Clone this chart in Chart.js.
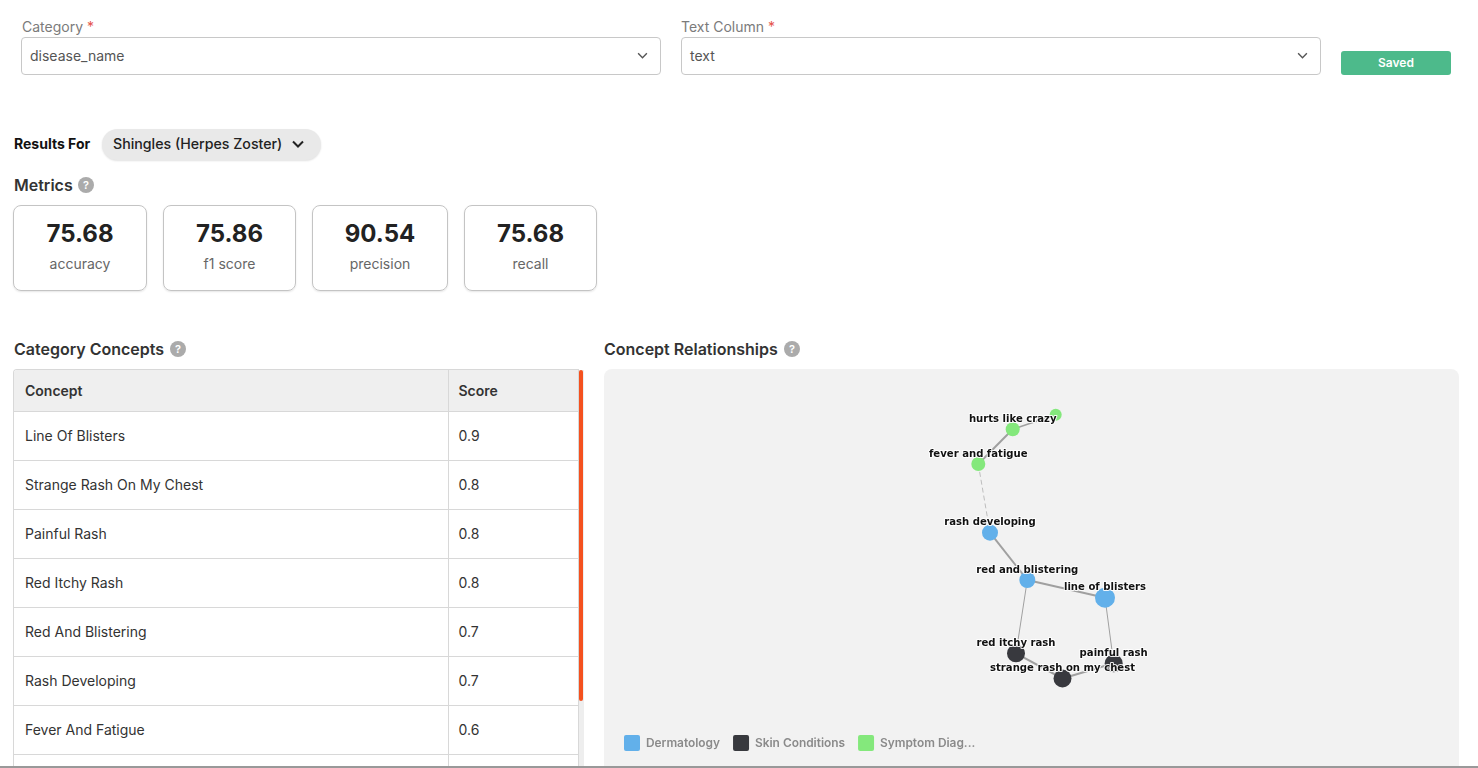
<!DOCTYPE html>
<html>
<head>
<meta charset="utf-8">
<title>Concept Relationships</title>
<script src="https://cdn.jsdelivr.net/npm/chart.js@4"></script>
<style>
  html, body { margin: 0; padding: 0; background: #fff; overflow: hidden; width: 1478px; height: 768px; }
  body { font-family: Inter, "Noto Sans", sans-serif; color: #1f1f1f; position: relative; }
  .abs { position: absolute; white-space: nowrap; }
  .field-label { font-size: 14px; color: #7b7b7b; top: 18px; line-height: 17px; }
  .field-label b { color: #e5534b; font-weight: 400; }
  .select { top: 37px; width: 638px; height: 36px; border: 1px solid #c8c8c8; border-radius: 4px; font-size: 14px; color: #555; line-height: 36px; text-indent: 8px; }
  .chev { position: absolute; right: 12px; top: 14px; width: 11px; height: 7px; }
  .saved { left: 1341px; top: 51px; width: 110px; height: 24px; border-radius: 3px; background: #4dba8b; color: #fff; font-size: 12px; font-weight: 600; text-align: center; line-height: 23px; }
  .pill { left: 102px; top: 129px; width: 219px; height: 31px; border-radius: 16px; background: #e9e9e9; box-shadow: 0 1px 2px rgba(0,0,0,.12); font-size: 14.2px; font-weight: 500; line-height: 30px; text-indent: 11px; color: #222; }
  .section { font-size: 16px; font-weight: 600; line-height: 20px; color: #333; }
  .help { width: 16px; height: 16px; border-radius: 50%; background: #ababab; color: #fff; font-size: 11px; font-weight: 600; text-align: center; line-height: 16px; }
  .card { top: 205px; height: 84px; border: 1px solid #c4c4c4; border-radius: 8px; box-shadow: 0 1px 2px rgba(0,0,0,.1); text-align: center; box-sizing: content-box; }
  .card .val { font-size: 24px; font-weight: 700; line-height: 28px; margin-top: 14px; color: #222; }
  .card .lab { font-size: 14px; line-height: 17px; margin-top: 7px; color: #666; }
  #tableWrap { left: 13px; top: 369px; width: 566px; height: 400px; border: 1px solid #d8d8d8; border-bottom: 0; border-radius: 4px 0 0 0; overflow: hidden; box-sizing: border-box; }
  table { border-collapse: collapse; width: 566px; table-layout: fixed; font-size: 14px; }
  th { height: 41px; background: #efefef; font-weight: 600; text-align: left; padding: 0 0 0 11px; color: #333; border-bottom: 1px solid #d8d8d8; }
  td { height: 49px; padding: 0 0 1px 11px; box-sizing: border-box; color: #333; border-bottom: 1px solid #d8d8d8; }
  th + th, td + td { border-left: 1px solid #d8d8d8; padding-left: 10px; }
  #track { left: 579px; top: 370px; width: 5px; height: 398px; background: #eee; }
  #thumb { left: 579px; top: 370px; width: 4px; height: 331px; background: #f4511e; border-radius: 2px; }
  #panel { left: 604px; top: 369px; width: 855px; height: 397px; background: #f2f2f2; border-radius: 8px 8px 0 0; }
  #bottomLine { left: 0; top: 766px; width: 1478px; height: 2px; background: #999; }
</style>
</head>
<body>
<div class="abs field-label" style="left:22px">Category <b>*</b></div>
<div class="abs select" style="left:21px">disease_name<svg class="chev" viewBox="0 0 12 8"><path d="M1 1.5l5 5 5-5" fill="none" stroke="#555" stroke-width="1.6"/></svg></div>
<div class="abs field-label" style="left:681px">Text Column <b>*</b></div>
<div class="abs select" style="left:681px">text<svg class="chev" viewBox="0 0 12 8"><path d="M1 1.5l5 5 5-5" fill="none" stroke="#555" stroke-width="1.6"/></svg></div>
<div class="abs saved">Saved</div>

<div class="abs" style="left:14px;top:135px;font-size:14px;font-weight:700;line-height:17px;color:#111">Results For</div>
<div class="abs pill">Shingles (Herpes Zoster)<svg style="position:absolute;left:190px;top:11px" width="12" height="8" viewBox="0 0 12 8"><path d="M1 1.5l5 5 5-5" fill="none" stroke="#222" stroke-width="2"/></svg></div>

<div class="abs section" style="left:14px;top:175px">Metrics</div>
<div class="abs help" style="left:78px;top:177px">?</div>
<div id="cards"></div>

<div class="abs section" style="left:14px;top:339px">Category Concepts</div>
<div class="abs help" style="left:170px;top:341px">?</div>
<div class="abs" id="tableWrap"><table id="conceptTable"></table></div>
<div class="abs" id="track"></div>
<div class="abs" id="thumb"></div>

<div class="abs section" style="left:604px;top:339px">Concept Relationships</div>
<div class="abs help" style="left:784px;top:341px">?</div>
<div class="abs" id="panel"><canvas id="graph"></canvas></div>
<div class="abs" id="bottomLine"></div>

<script>
const metricNames = ['accuracy', 'f1 score', 'precision', 'recall'];
const metricValues = ['75.68', '75.86', '90.54', '75.68'];
const metricLeft = [13, 163, 312, 464];
const metricWidth = [132, 131, 134, 131];

const concepts = ['Line Of Blisters', 'Strange Rash On My Chest', 'Painful Rash', 'Red Itchy Rash', 'Red And Blistering', 'Rash Developing', 'Fever And Fatigue'];
const scores = [0.9, 0.8, 0.8, 0.8, 0.7, 0.7, 0.6];

// graph nodes
const nodeNames = ['line of blisters', 'red and blistering', 'rash developing', 'red itchy rash', 'strange rash on my chest', 'painful rash', 'fever and fatigue', 'hurts like crazy', ''];
const nodeX = [1105, 1027.3, 990, 1016, 1062.5, 1113.7, 978.3, 1012.7, 1055.7];
const nodeY = [597.7, 580, 532.7, 653.3, 678.5, 663.3, 464, 429.3, 414.7];
const nodeSize = [10, 8, 8, 9, 9, 9, 7, 7, 6];
const nodeGroup = [0, 0, 0, 1, 1, 1, 2, 2, 2];

const groupNames = ['Dermatology', 'Skin Conditions', 'Symptom Diag...'];
const groupColors = ['#62b0ea', '#38393e', '#84e87c'];

const edgeFrom = [8, 7, 6, 2, 1, 1, 0, 3, 4];
const edgeTo = [7, 6, 2, 1, 0, 3, 5, 4, 5];
const edgeWidth = [1.5, 2, 1, 2, 2, 1, 1, 2, 2];
const edgeDash = [0, 0, 1, 0, 0, 0, 0, 0, 0];

// metric cards
document.getElementById('cards').innerHTML = metricNames.map(function(name, i) {
  return '<div class="abs card" style="left:' + metricLeft[i] + 'px;width:' + metricWidth[i] + 'px">' +
    '<div class="val">' + metricValues[i] + '</div><div class="lab">' + name + '</div></div>';
}).join('');

// concept table, the row after Fever And Fatigue is scrolled out of view
document.getElementById('conceptTable').innerHTML =
  '<colgroup><col style="width:434px"><col></colgroup><tr><th>Concept</th><th>Score</th></tr>' +
  concepts.map(function(c, i) { return '<tr><td>' + c + '</td><td>' + scores[i] + '</td></tr>'; }).join('') +
  '<tr><td></td><td></td></tr>';

const nodeSets = groupNames.map(function(name, g) {
  const idx = nodeNames.map(function(n, i) { return i; }).filter(function(i) { return nodeGroup[i] === g; });
  return {
    label: name,
    data: idx.map(function(i) { return { x: nodeX[i], y: nodeY[i], name: nodeNames[i] }; }),
    pointRadius: idx.map(function(i) { return nodeSize[i]; }),
    backgroundColor: groupColors[g],
    borderWidth: 0,
    hoverRadius: 0
  };
});

const edgeSets = edgeFrom.map(function(from, i) {
  const to = edgeTo[i];
  return {
    label: 'edge',
    showLine: true,
    data: [{ x: nodeX[from], y: nodeY[from] }, { x: nodeX[to], y: nodeY[to] }],
    borderColor: edgeDash[i] ? '#bdbdbd' : '#a0a0a0',
    borderWidth: edgeWidth[i],
    borderDash: edgeDash[i] ? [5, 3] : [],
    pointRadius: 0
  };
});

// node names go on top of everything, with a white halo
const nodeLabels = {
  id: 'nodeLabels',
  afterDatasetsDraw: function(chart) {
    const c = chart.ctx;
    c.save();
    c.font = 'bold 10.1px "DejaVu Sans"';
    c.textAlign = 'center';
    c.textBaseline = 'middle';
    c.lineJoin = 'round';
    nodeSets.forEach(function(set, d) {
      chart.getDatasetMeta(d).data.forEach(function(pt, i) {
        const name = set.data[i].name;
        if (!name) return;
        c.strokeStyle = 'rgba(255,255,255,0.9)';
        c.lineWidth = 2;
        c.strokeText(name, pt.x, pt.y - 10);
        c.fillStyle = '#111';
        c.fillText(name, pt.x, pt.y - 10);
      });
    });
    c.restore();
  }
};

new Chart(document.getElementById('graph'), {
  type: 'scatter',
  data: { datasets: nodeSets.concat(edgeSets) },
  plugins: [nodeLabels],
  options: {
    responsive: true,
    maintainAspectRatio: false,
    animation: false,
    layout: { autoPadding: false, padding: { left: 7, bottom: 5 } },
    scales: {
      // axis ranges are the page pixels covered by the plot area
      x: { display: false, min: 611, max: 1459 },
      y: { display: false, min: 369, max: 722, reverse: true }
    },
    plugins: {
      tooltip: { enabled: false },
      legend: {
        position: 'bottom',
        align: 'start',
        labels: {
          boxWidth: 16,
          boxHeight: 16,
          padding: 13,
          useBorderRadius: true,
          borderRadius: 2,
          color: '#8a8a8a',
          font: { family: 'Inter', size: 11.9, weight: '600' },
          filter: function(item) { return item.text !== 'edge'; }
        }
      }
    }
  }
});
</script>
</body>
</html>
